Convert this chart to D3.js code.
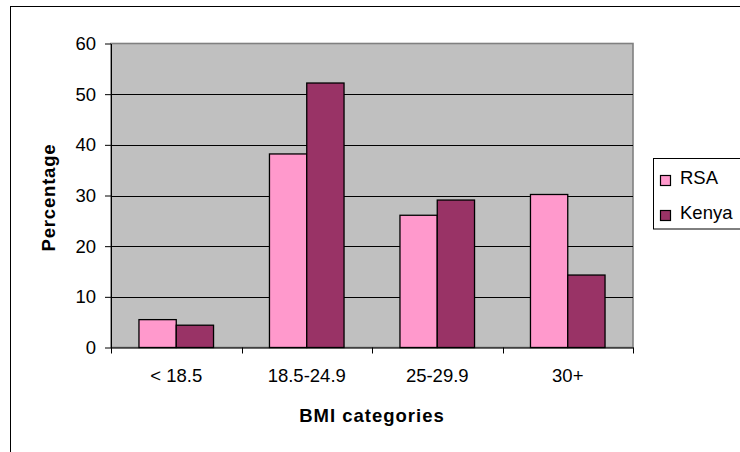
<!DOCTYPE html>
<html>
<head>
<meta charset="utf-8">
<script src="https://cdn.jsdelivr.net/npm/d3@7/dist/d3.min.js"></script>
<style>
  html, body { margin: 0; padding: 0; background: #fff; }
  svg { display: block; }
  text { font-family: "Liberation Sans", Arial, sans-serif; fill: #000; }
</style>
</head>
<body>
<svg id="chart" width="740" height="452"></svg>
<script>
// BMI distribution by country (percent of respondents)
const categories = ["< 18.5", "18.5-24.9", "25-29.9", "30+"];
const seriesNames = ["RSA", "Kenya"];
const rsaValues = [5.5, 38.2, 26.1, 30.2];
const kenyaValues = [4.4, 52.2, 29.1, 14.3];
const yTicks = [0, 10, 20, 30, 40, 50, 60];

const seriesValues = { RSA: rsaValues, Kenya: kenyaValues };
const colors = { RSA: "#FF99CC", Kenya: "#993366" };

const svg = d3.select("#chart");
const plot = { left: 111, right: 633, top: 43.5, bottom: 347.5 };

// outer chart frame (runs off the right and bottom edges)
svg.append("rect")
  .attr("x", 10.5).attr("y", 6.5)
  .attr("width", 800).attr("height", 500)
  .attr("fill", "#fff").attr("stroke", "#000").attr("stroke-width", 1);

const x = d3.scaleBand().domain(categories).range([plot.left, plot.right]).padding(0);
const xSub = d3.scaleBand().domain(seriesNames).range([0, x.bandwidth()])
  .paddingInner(0).paddingOuter(0.75);
const y = d3.scaleLinear().domain([0, 60]).range([plot.bottom, plot.top]);

// plot area
svg.append("rect")
  .attr("x", plot.left).attr("y", plot.top)
  .attr("width", plot.right - plot.left).attr("height", plot.bottom - plot.top)
  .attr("fill", "#C0C0C0").attr("stroke", "#808080").attr("stroke-width", 1.6);

// horizontal gridlines
svg.append("g")
  .selectAll("line")
  .data(yTicks.filter(t => t > 0 && t < 60))
  .join("line")
  .attr("x1", plot.left).attr("x2", plot.right)
  .attr("y1", d => Math.round(y(d)) + 0.5).attr("y2", d => Math.round(y(d)) + 0.5)
  .attr("stroke", "#000").attr("stroke-width", 1);

// bars
const groups = svg.append("g")
  .selectAll("g")
  .data(categories)
  .join("g")
  .attr("transform", d => `translate(${x(d)},0)`);

groups.selectAll("rect")
  .data((d, i) => seriesNames.map(s => ({ s, v: seriesValues[s][i] })))
  .join("rect")
  .attr("x", d => xSub(d.s))
  .attr("y", d => y(d.v))
  .attr("width", xSub.bandwidth())
  .attr("height", d => y(0) - y(d.v))
  .attr("fill", d => colors[d.s])
  .attr("stroke", "#000").attr("stroke-width", 1.3);

// y axis
const yAxis = svg.append("g")
  .attr("transform", `translate(${plot.left},0)`)
  .call(d3.axisLeft(y).tickValues(yTicks).tickSize(6).tickPadding(9).tickSizeOuter(0));
yAxis.selectAll("text").style("font-size", "18.5px");
yAxis.selectAll("path, line").attr("stroke", "#000");

// x axis: labels centred on categories, ticks at category boundaries
const xAxis = svg.append("g")
  .attr("transform", `translate(0,${plot.bottom})`)
  .call(d3.axisBottom(x).tickSize(0).tickPadding(21).tickSizeOuter(0));
xAxis.selectAll("text").style("font-size", "18.5px");
xAxis.select("path").attr("stroke", "#000");

const bounds = categories.map(c => x(c)).concat([x(categories[categories.length - 1]) + x.bandwidth()]);
xAxis.append("g")
  .selectAll("line")
  .data(bounds)
  .join("line")
  .attr("x1", d => Math.round(d) + 0.5).attr("x2", d => Math.round(d) + 0.5)
  .attr("y1", 0).attr("y2", 6)
  .attr("stroke", "#000");

// axis titles
svg.append("text")
  .attr("x", (plot.left + plot.right) / 2).attr("y", 422)
  .attr("text-anchor", "middle")
  .style("font-size", "18.5px").style("font-weight", "bold").style("letter-spacing", "1px")
  .text("BMI categories");

svg.append("text")
  .attr("transform", `translate(55,${(plot.top + plot.bottom) / 2 + 2}) rotate(-90)`)
  .attr("text-anchor", "middle")
  .style("font-size", "18.5px").style("font-weight", "bold").style("letter-spacing", "0.8px")
  .text("Percentage");

// legend
const legend = svg.append("g");
legend.append("rect")
  .attr("x", 653.5).attr("y", 158.5).attr("width", 120).attr("height", 70.5)
  .attr("fill", "#fff").attr("stroke", "#000").attr("stroke-width", 1);

const items = legend.selectAll("g.item")
  .data(seriesNames)
  .join("g")
  .attr("class", "item")
  .attr("transform", (d, i) => `translate(0,${i * 35})`);

items.append("rect")
  .attr("x", 660.5).attr("y", 175.5).attr("width", 10).attr("height", 10)
  .attr("fill", d => colors[d]).attr("stroke", "#000").attr("stroke-width", 1.2);

items.append("text")
  .attr("x", 680).attr("y", 183.5)
  .style("font-size", "18.5px")
  .text(d => d);
</script>
</body>
</html>
